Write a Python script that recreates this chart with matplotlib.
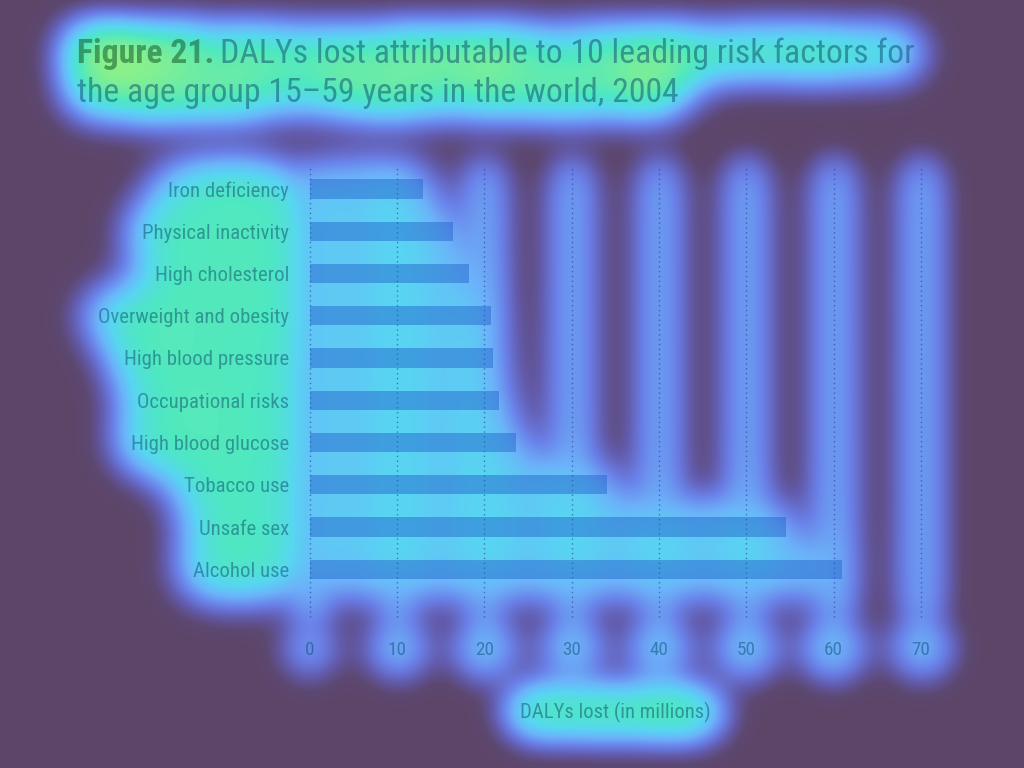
import matplotlib
matplotlib.use('Agg')
import matplotlib.pyplot as plt
import numpy as np
from matplotlib import font_manager as fm
from matplotlib.font_manager import FontProperties
from matplotlib.colors import LinearSegmentedColormap

# ---------------- data ----------------
categories = ["Iron deficiency", "Physical inactivity", "High cholesterol",
              "Overweight and obesity", "High blood pressure", "Occupational risks",
              "High blood glucose", "Tobacco use", "Unsafe sex", "Alcohol use"]
values = [13.0, 16.4, 18.3, 20.8, 21.0, 21.7, 23.6, 34.0, 54.5, 60.9]
x_ticks = [0, 10, 20, 30, 40, 50, 60, 70]
x_tick_labels = [str(v) for v in x_ticks]
title_bold = "Figure 21."
title_line1 = "DALYs lost attributable to 10 leading risk factors for"
title_line2 = "the age group 15\u201359 years in the world, 2004"
x_label = "DALYs lost (in millions)"

BG = '#5c4566'
W, H = 1024, 768

# ---------------- fonts (prefer a narrow / condensed family) ----------------
prefs = ['Roboto Condensed', 'Liberation Sans Narrow', 'Noto Sans', 'Open Sans',
         'DejaVu Sans', 'Lato', 'Inter', 'Roboto']

def _w(f):
    if isinstance(f.weight, (int, float)):
        return f.weight
    return {'normal': 400, 'regular': 400, 'book': 400, 'bold': 700}.get(str(f.weight).lower(), 400)

def _narrow(f):
    s = (f.name + ' ' + str(f.fname)).lower()
    return ('condensed' in str(f.stretch)) or ('narrow' in s) or ('condensed' in s)

def pick_font(target, same_name=None):
    best = None
    for f in fm.fontManager.ttflist:
        if f.style != 'normal' or not _narrow(f):
            continue
        low = (f.name + ' ' + str(f.fname)).lower()
        sub = 1 if ('semi' in low or 'extra' in low or 'ultra' in low) else 0
        rank = next((i for i, p in enumerate(prefs) if f.name.startswith(p)), len(prefs))
        diff = abs(_w(f) - target)
        if same_name is not None:
            key = (f.name != same_name, diff, sub, rank)
        else:
            key = (rank, sub, diff)
        if best is None or key < best[0]:
            best = (key, f.fname, f.name, _w(f))
    return best

reg_pick = pick_font(400)
bold_pick = pick_font(700, reg_pick[2] if reg_pick else None)

def reg_fp(size):
    if reg_pick:
        return FontProperties(fname=reg_pick[1], size=size)
    return FontProperties(family=['Liberation Sans', 'DejaVu Sans'], size=size)

def bold_fp(size):
    if bold_pick and bold_pick[3] >= 600:
        return FontProperties(fname=bold_pick[1], size=size)
    if bold_pick:
        return FontProperties(fname=bold_pick[1], size=size, weight='bold')
    return FontProperties(family=['Liberation Sans', 'DejaVu Sans'], size=size, weight='bold')

fig = plt.figure(figsize=(W / 100, H / 100), dpi=100)
fig.patch.set_facecolor('none')
renderer = fig.canvas.get_renderer()

def text_width(s, fp):
    t = fig.text(0, 0, s, fontproperties=fp)
    w = t.get_window_extent(renderer).width
    t.remove()
    return w

ytick_size = 20 * 191 / text_width("Overweight and obesity", reg_fp(20))
title_size = 20 * 599 / text_width(title_line2, reg_fp(20))
xlabel_size = 20 * 190 / text_width(x_label, reg_fp(20))
xtick_size = ytick_size * 0.92

TXT = (0.04, 0.29, 0.42, 0.5)
TXT_G = (0.08, 0.36, 0.16, 0.55)

# ---------------- axes & bars ----------------
ax = fig.add_axes([309.5 / W, 151 / H, 611.5 / W, 451 / H])
ax.set_facecolor('none')
y = np.arange(len(categories))
bars = ax.barh(y, values, height=0.46, color='#1f5fc8', alpha=0.45, zorder=2)
ax.set_xlim(0, 70)
ax.set_ylim(10.13, -0.544)
ax.set_yticks(y, categories)
ax.set_xticks(x_ticks, x_tick_labels)
ax.tick_params(length=0)
ax.tick_params(axis='y', pad=14.8, labelcolor=TXT)
ax.tick_params(axis='x', pad=17, labelcolor=TXT)
for lbl in ax.get_yticklabels():
    lbl.set_fontproperties(reg_fp(ytick_size))
for lbl in ax.get_xticklabels():
    lbl.set_fontproperties(reg_fp(xtick_size))
for s in ax.spines.values():
    s.set_visible(False)
ax.grid(axis='x', linestyle=(0, (1, 2.5)), color='#283a8c', alpha=0.6, linewidth=1)
ax.grid(axis='y', visible=False)
ax.set_axisbelow(True)
ax.set_xlabel(x_label, fontproperties=reg_fp(xlabel_size), color=TXT)
ax.xaxis.set_label_coords(0.5, -0.2106)
ax.xaxis.label.set_va('center')

# ---------------- title ----------------
y1 = (H - 63) / H
y2 = (H - 102) / H
t1 = fig.text(77 / W, y1, title_bold, fontproperties=bold_fp(title_size), color=TXT_G, va='baseline')
w1 = t1.get_window_extent(renderer).width
t2 = fig.text((77 + w1 + 0.18 * title_size * 100 / 72) / W, y1, title_line1,
              fontproperties=reg_fp(title_size), color=TXT, va='baseline')
t3 = fig.text(77 / W, y2, title_line2, fontproperties=reg_fp(title_size), color=TXT, va='baseline')

fig.canvas.draw()
xt = ax.xaxis.get_major_ticks()
yt = ax.yaxis.get_major_ticks()
for t in xt:
    t.gridline.set_clip_on(False)

# ---------------- attention-style glow built from the rendered chart ----------------
# (artists, weight, blur sigma px, saturation)
groups = [
    ([t1, t2, t3], 0.88, 21, 3.0),
    ([t.label1 for t in yt], 0.74, 23, 3.0),
    ([ax.xaxis.label], 0.74, 19, 3.0),
    (list(bars.patches), 0.55, 23, 2.5),
    ([t.label1 for t in xt], 0.50, 19, 3.0),
    ([t.gridline for t in xt], 0.43, 16, 3.0),
]
all_art = [a for g in groups for a in g[0]]

def gblur(a, s):
    p = int(3 * s)
    ap = np.pad(a, p)
    ky = np.fft.fftfreq(ap.shape[0])[:, None]
    kx = np.fft.rfftfreq(ap.shape[1])[None, :]
    g = np.exp(-2 * (np.pi * s) ** 2 * (ky ** 2 + kx ** 2))
    out = np.fft.irfft2(np.fft.rfft2(ap) * g, s=ap.shape)
    return out[p:-p, p:-p]

layers = []
for arts, wgt, sig, k in groups:
    for a in all_art:
        a.set_visible(False)
    for a in arts:
        a.set_visible(True)
    fig.canvas.draw()
    m = np.asarray(fig.canvas.buffer_rgba())[..., 3].astype(float) / 255.0
    b = np.clip(gblur(m, sig), 0, None)
    if b.max() > 0:
        b = b / b.max()
    layers.append(wgt * (1 - np.exp(-k * b)) / (1 - np.exp(-k)))
for a in all_art:
    a.set_visible(True)

stack = np.array(layers)
mx = stack.max(axis=0)
heat = np.clip(mx + 0.12 * (stack.sum(axis=0) - mx), 0, 1)
heat = np.clip(gblur(heat, 11), 0, 1)

cmap = LinearSegmentedColormap.from_list('glow', [
    (0.0, BG), (0.08, '#5d4872'), (0.2, '#635cae'), (0.34, '#6a80e8'),
    (0.48, '#6cb2fa'), (0.6, '#58d6f2'), (0.72, '#4ee8c2'), (0.85, '#86f08e'),
    (1.0, '#c8f064')])
rgb = cmap(heat)[..., :3]
fig.figimage(rgb, xo=0, yo=0, origin='upper', zorder=-10)

fig.patch.set_facecolor(BG)
fig.savefig('out.png', dpi=100, facecolor=BG)
